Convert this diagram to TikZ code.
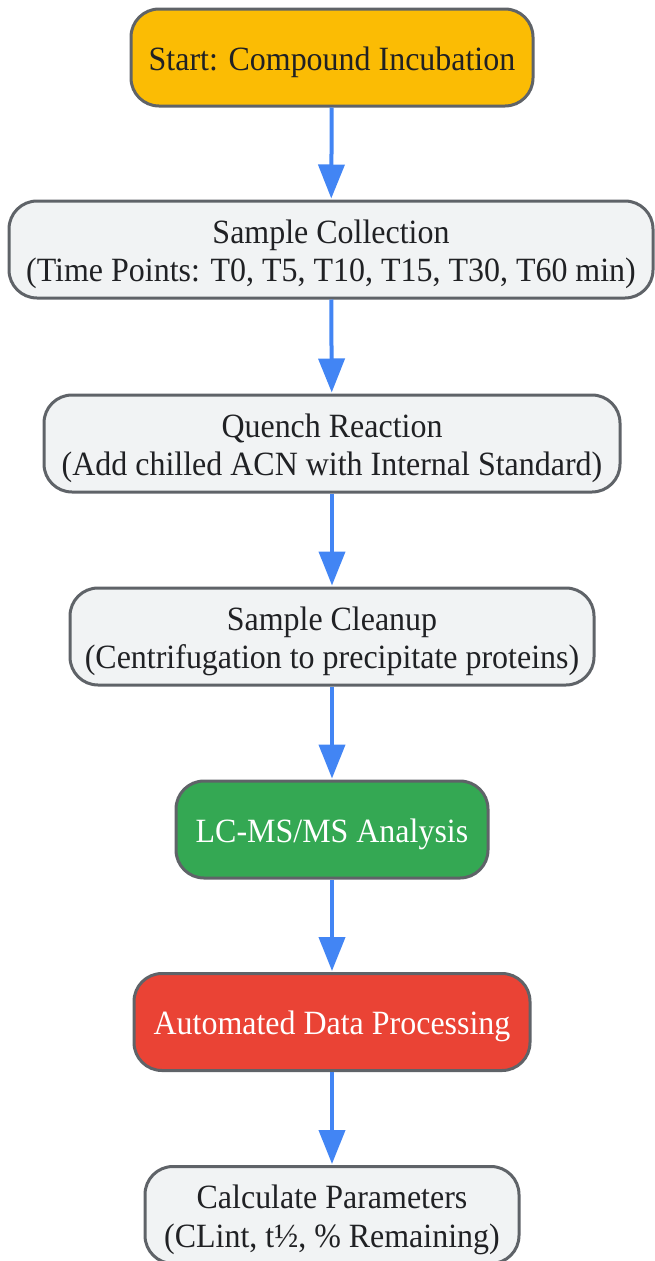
\documentclass[tikz,border=0pt]{standalone}
\usepackage{fontspec}
\setmainfont{Liberation Serif}[FakeStretch=0.94]
\usepackage{xcolor}
\usetikzlibrary{arrows.meta,positioning}

\definecolor{startorange}{HTML}{FBBC04}
\definecolor{stepgray}{HTML}{F1F3F4}
\definecolor{edgegray}{HTML}{5F6368}
\definecolor{analysisgreen}{HTML}{34A853}
\definecolor{procred}{HTML}{EA4335}
\definecolor{flowblue}{HTML}{4285F4}
\definecolor{textdark}{HTML}{202124}

% strut that pushes the first line down a little
\newcommand{\topstrut}{\rule{0pt}{33pt}}

\tikzset{
  stagebox/.style={draw=edgegray, line width=3pt, rounded corners=28pt, fill=stepgray,
    text=textdark, align=center, minimum height=97pt, inner sep=0pt,
    font=\fontsize{34}{38.4}\selectfont},
  flow/.style={draw=flowblue, line width=4pt, -{Triangle[width=26pt,length=34pt]}, shorten >=1pt}
}

\begin{document}
\begin{tikzpicture}[x=1pt,y=-1pt]
    \useasboundingbox (0,0) rectangle (654,1261);

    % Workflow stages
    \node[stagebox, fill=startorange, minimum width=402pt] (incub) at (332,57.5) {\topstrut Start: Compound Incubation};
    \node[stagebox, minimum width=644pt] (collect) at (331,249.5) {\topstrut Sample Collection\\(Time Points: T0, T5, T10, T15, T30, T60 min)};
    \node[stagebox, minimum width=576pt] (quench) at (332,443.5) {\topstrut Quench Reaction\\(Add chilled ACN with Internal Standard)};
    \node[stagebox, minimum width=524pt] (cleanup) at (332,636.5) {\topstrut Sample Cleanup\\(Centrifugation to precipitate proteins)};
    \node[stagebox, fill=analysisgreen, text=white, minimum width=312pt] (lcms) at (332,829.5) {\topstrut LC-MS/MS Analysis};
    \node[stagebox, fill=procred, text=white, minimum width=396pt] (dataproc) at (332,1022) {\topstrut Automated Data Processing};
    \node[stagebox, minimum width=374pt] (calc) at (332,1215) {\topstrut Calculate Parameters\\(CLint, t½, \% Remaining)};

    % Connections
    \draw[flow] (incub) -- (collect);
    \draw[flow] (collect) -- (quench);
    \draw[flow] (quench) -- (cleanup);
    \draw[flow] (cleanup) -- (lcms);
    \draw[flow] (lcms) -- (dataproc);
    \draw[flow] (dataproc) -- (calc);
\end{tikzpicture}
\end{document}
